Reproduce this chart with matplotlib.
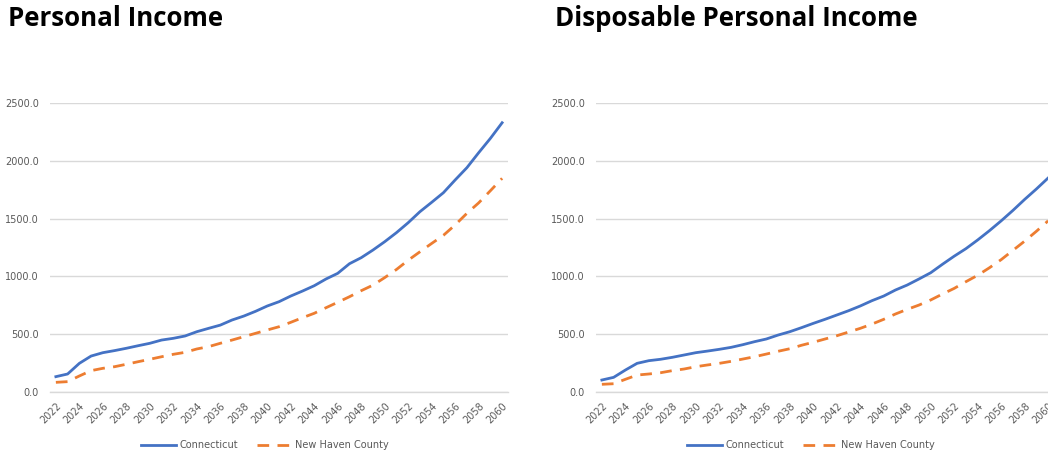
import matplotlib
matplotlib.use("Agg")
import matplotlib.pyplot as plt

years = list(range(2022, 2061))

pi_ct = [135, 158, 250, 313, 342, 360, 380, 402, 423, 451, 466, 486, 523, 552, 580,
         624, 658, 699, 745, 782, 831, 874, 920, 978, 1027, 1110, 1162, 1228, 1300,
         1378, 1464, 1559, 1640, 1723, 1833, 1939, 2068, 2192, 2327]
pi_nh = [86, 92, 141, 187, 207, 221, 242, 264, 285, 307, 328, 345, 374, 394, 423,
         451, 480, 509, 538, 566, 604, 644, 682, 730, 777, 825, 877, 925, 990,
         1060, 1140, 1213, 1285, 1355, 1445, 1545, 1635, 1740, 1847]

dpi_ct = [106, 129, 192, 250, 273, 285, 302, 322, 342, 356, 371, 388, 411, 437, 460,
          494, 523, 558, 595, 630, 667, 704, 745, 791, 831, 883, 926, 978, 1032,
          1105, 1175, 1240, 1315, 1395, 1480, 1570, 1665, 1755, 1850]
dpi_nh = [69, 74, 112, 149, 158, 169, 187, 201, 221, 236, 250, 267, 287, 307, 330,
          354, 376, 406, 432, 460, 488, 520, 552, 589, 630, 676, 716, 753, 797,
          848, 897, 955, 1010, 1075, 1145, 1225, 1305, 1390, 1480]

titles = ["Personal Income", "Disposable Personal Income"]
series_names = ["Connecticut", "New Haven County"]
yticks = [0, 500, 1000, 1500, 2000, 2500]
xtick_years = list(range(2022, 2061, 2))

BLUE = "#4472C4"
ORANGE = "#ED7D31"
GRID = "#D9D9D9"
TXT = "#595959"

W, H = 1048, 455
fig = plt.figure(figsize=(W / 100, H / 100), dpi=100)

# (CT series, NH series, axes left px, title left px, legend centre px)
panels = [(pi_ct, pi_nh, 50, 8, 265), (dpi_ct, dpi_nh, 596, 555, 811)]
for i, (ct, nh, left_px, title_px, leg_px) in enumerate(panels):
    ax = fig.add_axes([left_px / W, (H - 392.3) / H, 458 / W, 289.6 / H])
    l1, = ax.plot(years, ct, color=BLUE, lw=2.0, label=series_names[0])
    l2, = ax.plot(years, nh, color=ORANGE, lw=2.0, dashes=(4.2, 3.0), label=series_names[1])
    ax.set_xlim(2021.5, 2060.5)
    ax.set_ylim(0, 2500)
    ax.set_yticks(yticks)
    ax.set_yticklabels([f"{v:.1f}" for v in yticks])
    ax.set_xticks(xtick_years)
    ax.set_xticklabels([str(y) for y in xtick_years], rotation=45, ha="right",
                       rotation_mode="anchor")
    ax.tick_params(axis="both", length=0, labelsize=7, labelcolor=TXT)
    ax.tick_params(axis="y", pad=8)
    ax.tick_params(axis="x", pad=6)
    ax.grid(axis="y", color=GRID, lw=1.0)
    ax.set_axisbelow(True)
    for s in ["top", "right", "left"]:
        ax.spines[s].set_visible(False)
    ax.spines["bottom"].set_color(GRID)
    ax.spines["bottom"].set_linewidth(1.0)
    fig.text(title_px / W, 1 - 19 / H, titles[i], fontsize=18.6, fontweight="bold",
             family=["Open Sans", "DejaVu Sans"], ha="left", va="center", color="black")
    leg = fig.legend(handles=[l1, l2], loc="center",
                     bbox_to_anchor=(leg_px / W, 1 - 445 / H),
                     ncol=2, frameon=False, fontsize=7, handlelength=3.6,
                     columnspacing=2.0, handletextpad=0.3)
    for t in leg.get_texts():
        t.set_color(TXT)

fig.savefig("out.png", dpi=100)
